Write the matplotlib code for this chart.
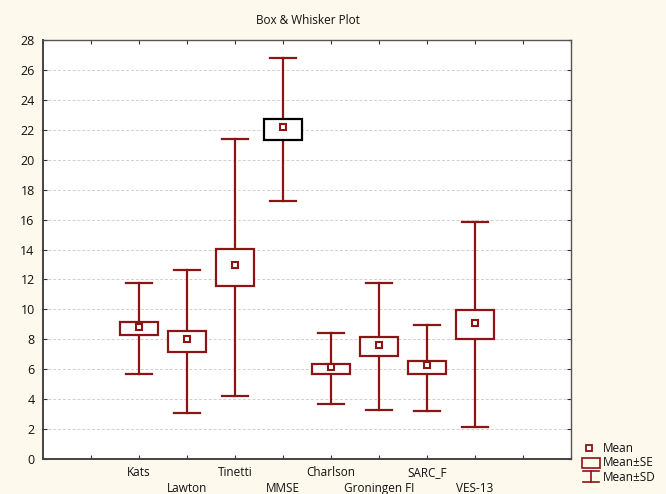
import matplotlib
matplotlib.use("Agg")
import matplotlib.pyplot as plt
from matplotlib.lines import Line2D
from matplotlib.patches import Rectangle

# values
labels = ["Kats", "Lawton", "Tinetti", "MMSE", "Charlson", "Groningen FI", "SARC_F", "VES-13"]
means = [8.80, 8.00, 12.97, 22.17, 6.13, 7.62, 6.26, 9.07]
se_lo = [8.27, 7.17, 11.59, 21.32, 5.70, 6.91, 5.70, 8.04]
se_hi = [9.16, 8.53, 14.04, 22.71, 6.35, 8.14, 6.53, 9.98]
sd_lo = [5.68, 3.05, 4.23, 17.25, 3.68, 3.28, 3.23, 2.16]
sd_hi = [11.74, 12.63, 21.40, 26.78, 8.40, 11.74, 8.96, 15.86]
positions = [2, 3, 4, 5, 6, 7, 8, 9]

RED = "#8b1414"
BG = "#fef9ed"
plt.rcParams['font.family'] = ['Open Sans', 'DejaVu Sans']

fig = plt.figure(figsize=(6.66, 4.94), dpi=100, facecolor=BG)
ax = fig.add_axes([43/666, 35/494, 528/666, 419/494])
ax.set_facecolor("white")

box_w = 0.8
cap_w = 0.54
for i, x in enumerate(positions):
    edge = "black" if labels[i] == "MMSE" else RED
    # whisker (mean +- sd)
    ax.plot([x, x], [sd_lo[i], se_lo[i]], color=RED, lw=1.6, zorder=2)
    ax.plot([x, x], [se_hi[i], sd_hi[i]], color=RED, lw=1.6, zorder=2)
    ax.plot([x - cap_w/2, x + cap_w/2], [sd_lo[i]] * 2, color=RED, lw=1.6, zorder=2)
    ax.plot([x - cap_w/2, x + cap_w/2], [sd_hi[i]] * 2, color=RED, lw=1.6, zorder=2)
    # box (mean +- se)
    ax.add_patch(Rectangle((x - box_w/2, se_lo[i]), box_w, se_hi[i] - se_lo[i],
                           facecolor="white", edgecolor=edge, lw=1.6, zorder=3))
    ax.plot(x, means[i], marker="s", ms=4.5, mfc="white", mec=RED, mew=1.5, zorder=4)

ax.set_xlim(0, 11)
ax.set_ylim(0, 28)
ax.set_yticks(range(0, 29, 2))
ax.set_xticks(range(0, 12))
ax.set_xticklabels([])
ax.yaxis.grid(True, ls=(0, (3, 2)), color="#d0d0d0", lw=0.7)
ax.set_axisbelow(True)
ax.tick_params(axis="both", direction="in", length=3, width=0.8, color="#333333",
               top=True, right=True, labelsize=9, labelcolor="#111111", pad=4)
ax.tick_params(axis="y", pad=6)
for s in ["left", "bottom"]:
    ax.spines[s].set_linewidth(1.4)
    ax.spines[s].set_color("#444444")
for s in ["right", "top"]:
    ax.spines[s].set_linewidth(1.0)
    ax.spines[s].set_color("#555555")

# staggered category labels
for i, x in enumerate(positions):
    ax.annotate(labels[i], xy=(x, 0), xycoords=("data", "axes fraction"),
                xytext=(0, -5 if i % 2 == 0 else -16.5), textcoords="offset points",
                ha="center", va="top", fontsize=8.5, color="#111111")

fig.text(308/666, 1 - 20/494, "Box & Whisker Plot", ha="center", va="center",
         fontsize=8.5, color="#111111")

# legend drawn by hand at the bottom right
tf = fig.transFigure
fig.add_artist(Line2D([589/666], [1 - 448/494], transform=tf, marker="s", ms=4.5,
                      mfc="white", mec=RED, mew=1.3, ls="none"))
fig.add_artist(Rectangle((582/666, 1 - 468/494), 18/666, 10/494, transform=tf,
                         facecolor="none", edgecolor=RED, lw=1.2))
fig.add_artist(Line2D([583/666, 599/666], [1 - 471/494] * 2, transform=tf, color=RED, lw=1.2))
fig.add_artist(Line2D([591/666, 591/666], [1 - 471/494, 1 - 482/494], transform=tf, color=RED, lw=1.2))
fig.add_artist(Line2D([583/666, 599/666], [1 - 482/494] * 2, transform=tf, color=RED, lw=1.2))
for yy, txt in [(448, "Mean"), (462, "Mean±SE"), (477, "Mean±SD")]:
    fig.text(603/666, 1 - yy/494, txt, ha="left", va="center", fontsize=8.5, color="#111111")

fig.savefig("out.png", dpi=100, facecolor=BG)
